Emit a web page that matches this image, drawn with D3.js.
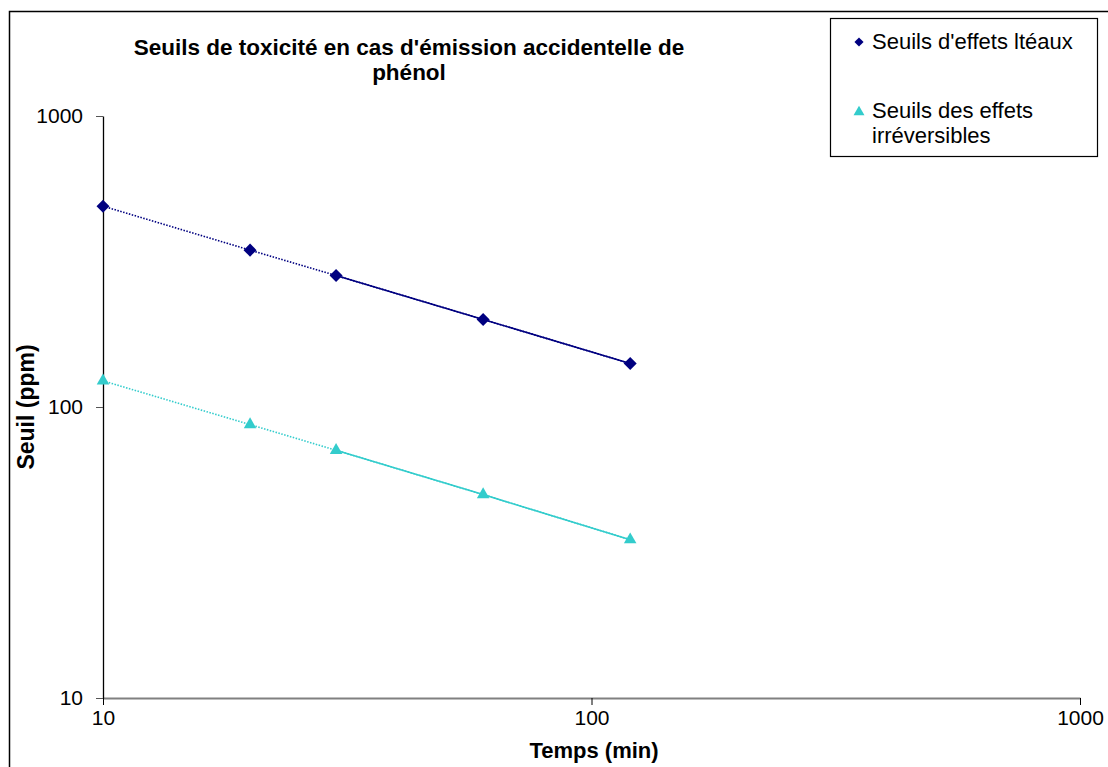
<!DOCTYPE html>
<html>
<head>
<meta charset="utf-8">
<script src="https://cdn.jsdelivr.net/npm/d3@7"></script>
<style>
  body { margin: 0; background: #fff; }
  text { font-family: "Liberation Sans", Arial, sans-serif; }
</style>
</head>
<body>
<div id="chart"></div>
<script>
const temps = [10, 20, 30, 60, 120];
const seuilsLetaux = [490, 346, 283, 200, 141];
const seuilsIrreversibles = [123, 87, 71, 50, 35];
const xTicks = [10, 100, 1000];
const yTicks = [10, 100, 1000];
const titleLines = ["Seuils de toxicité en cas d'émission accidentelle de", "phénol"];

const width = 1108, height = 767;
const plotLeft = 103, plotRight = 1080, plotTop = 116, plotBottom = 698;

const svg = d3.select('#chart').append('svg')
  .attr('width', width)
  .attr('height', height);

// outer chart area border
svg.append('rect')
  .attr('x', 9.5).attr('y', 11.5)
  .attr('width', width).attr('height', height)
  .attr('fill', 'none')
  .attr('stroke', '#000')
  .attr('stroke-width', 1.5);

const x = d3.scaleLog().domain([10, 1000]).range([plotLeft, plotRight]);
const y = d3.scaleLog().domain([10, 1000]).range([plotBottom, plotTop]);

// x axis
const xAxis = svg.append('g')
  .attr('transform', 'translate(0,' + plotBottom + ')')
  .call(d3.axisBottom(x).tickValues(xTicks).tickFormat(d3.format('d')).tickSizeInner(7).tickSizeOuter(0).tickPadding(5));
xAxis.select('.domain').attr('stroke', '#808080').attr('stroke-width', 2);
xAxis.selectAll('.tick line').attr('stroke', '#000');
xAxis.selectAll('text').style('font-size', '21px').attr('fill', '#000');

// y axis
const yAxis = svg.append('g')
  .attr('transform', 'translate(' + plotLeft + ',0)')
  .call(d3.axisLeft(y).tickValues(yTicks).tickFormat(d3.format('d')).tickSizeInner(7).tickSizeOuter(0).tickPadding(13));
yAxis.select('.domain').attr('stroke', '#000').attr('stroke-width', 1.3);
yAxis.selectAll('.tick line').attr('stroke', '#555');
yAxis.selectAll('text').style('font-size', '21px').attr('fill', '#000');

// titles
svg.append('text')
  .attr('x', 409).attr('y', 55)
  .attr('text-anchor', 'middle')
  .style('font-size', '22.5px').style('font-weight', 'bold')
  .selectAll('tspan')
  .data(titleLines)
  .enter()
  .append('tspan')
  .attr('x', 409)
  .attr('dy', (d, i) => i === 0 ? 0 : 25)
  .text(d => d);

svg.append('text')
  .attr('x', 594).attr('y', 758)
  .attr('text-anchor', 'middle')
  .style('font-size', '22px').style('font-weight', 'bold')
  .text('Temps (min)');

svg.append('text')
  .attr('transform', 'translate(34,407) rotate(-90)')
  .attr('text-anchor', 'middle')
  .style('font-size', '23px').style('font-weight', 'bold')
  .text('Seuil (ppm)');

const series = [
  { label: ["Seuils d'effets ltéaux"], values: seuilsLetaux, color: '#000080', symbol: d3.symbolSquare, rotate: 45, size: 85, legendSize: 42 },
  { label: ['Seuils des effets', 'irréversibles'], values: seuilsIrreversibles, color: '#33CCCC', symbol: d3.symbolTriangle, rotate: 0, size: 68, legendSize: 52 }
];

const line = d3.line()
  .x(d => x(d[0]))
  .y(d => y(d[1]));

series.forEach(s => {
  const pts = temps.map((t, i) => [t, s.values[i]]);
  // dotted line across all points
  svg.append('path')
    .datum(pts)
    .attr('d', line)
    .attr('fill', 'none')
    .attr('stroke', s.color)
    .attr('stroke-width', 1.6)
    .attr('stroke-dasharray', '1.5,1.5');
  // the dots merge into a solid line on the right part
  svg.append('path')
    .datum(pts.slice(2))
    .attr('d', line)
    .attr('fill', 'none')
    .attr('stroke', s.color)
    .attr('stroke-width', 1.6);

  svg.append('g')
    .selectAll('path')
    .data(pts)
    .enter()
    .append('path')
    .attr('transform', d => 'translate(' + x(d[0]) + ',' + y(d[1]) + ') rotate(' + s.rotate + ')')
    .attr('d', d3.symbol().type(s.symbol).size(s.size))
    .attr('fill', s.color);
});

// legend
const legend = svg.append('g');
legend.append('rect')
  .attr('x', 830.5).attr('y', 18.5)
  .attr('width', 267).attr('height', 138)
  .attr('fill', '#fff')
  .attr('stroke', '#000')
  .attr('stroke-width', 1.2);

const legendY = [42, 112];
const legendBase = [49, 118];
series.forEach((s, i) => {
  legend.append('path')
    .attr('transform', 'translate(859,' + legendY[i] + ') rotate(' + s.rotate + ')')
    .attr('d', d3.symbol().type(s.symbol).size(s.legendSize))
    .attr('fill', s.color);
  const t = legend.append('text')
    .attr('x', 872).attr('y', legendBase[i])
    .style('font-size', '22px');
  s.label.forEach((l, j) => {
    t.append('tspan').attr('x', 872).attr('dy', j === 0 ? 0 : 25).text(l);
  });
});
</script>
</body>
</html>
